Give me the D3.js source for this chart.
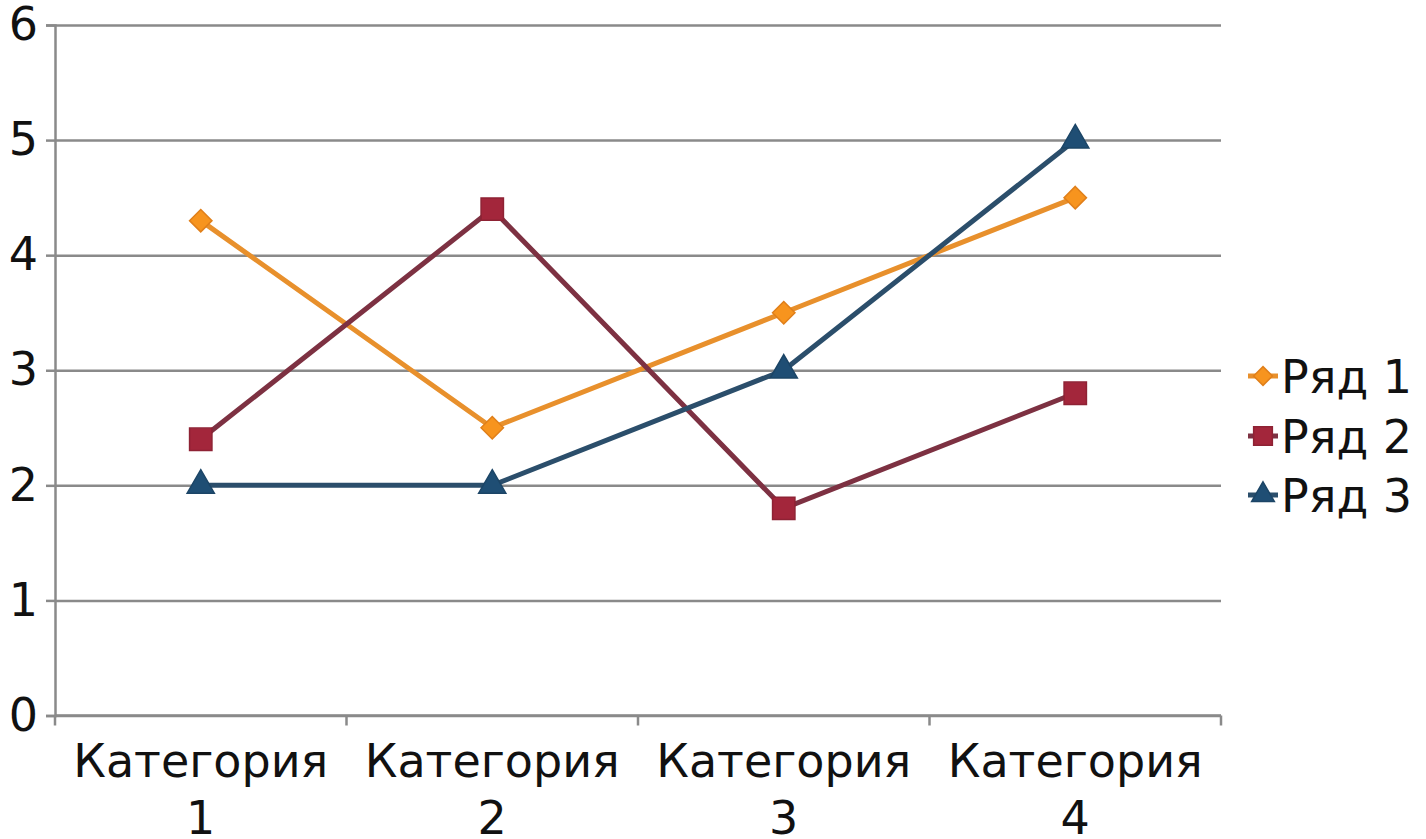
<!DOCTYPE html>
<html>
<head>
<meta charset="utf-8">
<script src="https://cdn.jsdelivr.net/npm/d3@7"></script>
<style>
  html, body { margin: 0; padding: 0; background: #fff; }
  svg { display: block; font-family: "DejaVu Sans", Verdana, sans-serif; }
</style>
</head>
<body>
<svg id="chart"></svg>
<script>
// Данные графика
const categories = ["Категория 1", "Категория 2", "Категория 3", "Категория 4"];
const seriesNames = ["Ряд 1", "Ряд 2", "Ряд 3"];
const series1 = [4.3, 2.5, 3.5, 4.5];
const series2 = [2.4, 4.4, 1.8, 2.8];
const series3 = [2, 2, 3, 5];
const yTicks = [0, 1, 2, 3, 4, 5, 6];

const width = 1426, height = 839;
const margin = { top: 25, left: 55, right: 205, bottom: 123.5 };

const svg = d3.select("#chart").attr("width", width).attr("height", height);

// Шкалы
const x = d3.scaleBand()
    .domain(categories)
    .range([margin.left, width - margin.right]);

const y = d3.scaleLinear()
    .domain([0, 6])
    .range([height - margin.bottom, margin.top]);

// Сетка
svg.append("g")
    .attr("transform", "translate(" + margin.left + ",0)")
    .call(d3.axisLeft(y).tickValues(yTicks).tickSize(-(width - margin.right - margin.left)).tickFormat(""))
    .call(g => g.select(".domain").remove())
    .call(g => g.selectAll("line").attr("stroke", "#8a8a8a").attr("stroke-width", 2.5));

// Ось Y
svg.append("g")
    .attr("transform", "translate(" + margin.left + ",0)")
    .call(d3.axisLeft(y).tickValues(yTicks).tickSize(9).tickPadding(8).tickFormat(d3.format("d")))
    .call(g => g.select(".domain").attr("stroke", "#8a8a8a").attr("stroke-width", 2.5))
    .call(g => g.selectAll("line").attr("stroke", "#8a8a8a").attr("stroke-width", 2.5))
    .call(g => g.selectAll("text").attr("font-size", 46).attr("fill", "#111")
        .attr("font-family", "DejaVu Sans, Verdana, sans-serif"));

// Ось X
const y0 = y(0);
svg.append("line")
    .attr("x1", margin.left).attr("x2", width - margin.right)
    .attr("y1", y0).attr("y2", y0)
    .attr("stroke", "#8a8a8a").attr("stroke-width", 2.5);

const bounds = categories.map(c => x(c)).concat([x(categories[categories.length - 1]) + x.bandwidth()]);
svg.selectAll(".xtick")
    .data(bounds)
    .enter()
    .append("line")
    .attr("x1", d => d).attr("x2", d => d)
    .attr("y1", y0).attr("y2", y0 + 10)
    .attr("stroke", "#8a8a8a").attr("stroke-width", 2.5);

const xLabels = svg.selectAll(".xlabel")
    .data(categories)
    .enter()
    .append("text")
    .attr("text-anchor", "middle")
    .attr("font-size", 46)
    .attr("fill", "#111");
xLabels.each(function (d) {
    const parts = d.split(" ");
    const t = d3.select(this);
    const cx = x(d) + x.bandwidth() / 2;
    t.append("tspan").attr("x", cx).attr("y", 777).text(parts[0]);
    t.append("tspan").attr("x", cx).attr("y", 834).text(parts[1]);
});

// Серии
const allSeries = [
    { name: seriesNames[0], values: series1, line: "#e8902c", fill: "#f7941e", stroke: "#e07f1a", shape: d3.symbolDiamond2 },
    { name: seriesNames[1], values: series2, line: "#7d3142", fill: "#a3263b", stroke: "#8e2234", shape: d3.symbolSquare },
    { name: seriesNames[2], values: series3, line: "#2b4e6b", fill: "#1f4e74", stroke: "#1c4566", shape: d3.symbolTriangle }
];

const line = d3.line()
    .x((d, i) => x(categories[i]) + x.bandwidth() / 2)
    .y(d => y(d));

allSeries.forEach(s => {
    svg.append("path")
        .datum(s.values)
        .attr("d", line)
        .attr("fill", "none")
        .attr("stroke", s.line)
        .attr("stroke-width", 5);
});

const symbolSize = { "Ряд 1": 320, "Ряд 2": 500, "Ряд 3": 320 };

allSeries.forEach(s => {
    svg.selectAll(null)
        .data(s.values)
        .enter()
        .append("path")
        .attr("d", d3.symbol().type(s.shape).size(symbolSize[s.name]))
        .attr("transform", (d, i) => "translate(" + (x(categories[i]) + x.bandwidth() / 2) + "," + y(d) + ")")
        .attr("fill", s.fill)
        .attr("stroke", s.stroke)
        .attr("stroke-width", 1.5);
});

// Легенда
const legend = svg.append("g");
const legendY = [376, 436, 495];
allSeries.forEach((s, i) => {
    const g = legend.append("g").attr("transform", "translate(0," + legendY[i] + ")");
    g.append("line")
        .attr("x1", 1248).attr("x2", 1278)
        .attr("stroke", s.line).attr("stroke-width", 5);
    g.append("path")
        .attr("d", d3.symbol().type(s.shape).size(symbolSize[s.name] * 0.7))
        .attr("transform", "translate(1263,0)")
        .attr("fill", s.fill)
        .attr("stroke", s.stroke)
        .attr("stroke-width", 1.5);
    g.append("text")
        .attr("x", 1281)
        .attr("y", 0)
        .attr("dy", "0.36em")
        .attr("font-size", 46)
        .attr("fill", "#111")
        .text(s.name);
});
</script>
</body>
</html>
